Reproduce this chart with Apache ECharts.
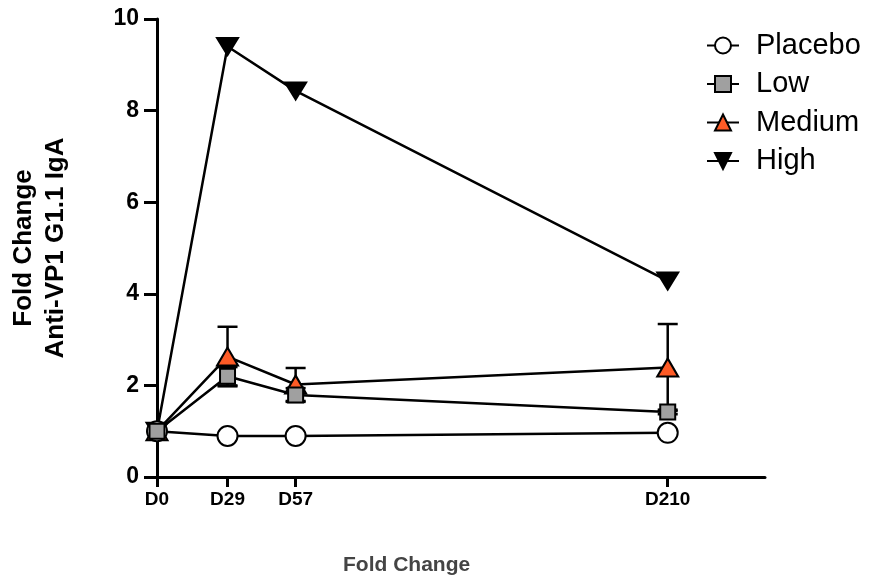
<!DOCTYPE html>
<html>
<head>
<meta charset="utf-8">
<script src="https://cdn.jsdelivr.net/npm/echarts@6/dist/echarts.min.js"></script>
<style>html,body{margin:0;padding:0;background:#fff}#c{width:869px;height:579px}</style>
</head>
<body>
<div id="c"></div>
<script>
const days = [0, 29, 57, 210];
const tickLabels = ['D0', 'D29', 'D57', 'D210'];
const yTicks = [0, 2, 4, 6, 8, 10];
const placebo = [1.0, 0.895, 0.895, 0.965];
const low = [1.0, 2.2, 1.79, 1.42];
const medium = [1.0, 2.63, 2.02, 2.39];
const high = [1.0, 9.4, 8.43, 4.28];
const placeboErr = [0, 0, 0, 0];
const lowErr = [0.05, 0.2, 0.15, 0.05];
const mediumErr = [0.05, 0.65, 0.36, 0.95];
const highErr = [0, 0, 0, 0];

const chart = echarts.init(document.getElementById('c'));
const FONT = 'Liberation Sans, Arial, sans-serif';

function pts(vals) { return days.map((d, i) => [d, vals[i]]); }
function errData(vals, errs) { return days.map((d, i) => [d, vals[i], errs[i]]); }

function errorSeries(name, vals, errs) {
  return {
    type: 'custom',
    name: name + ' err',
    z: 1,
    silent: true,
    data: errData(vals, errs),
    renderItem: function (params, api) {
      const x = api.value(0), y = api.value(1), e = api.value(2);
      if (!e) return null;
      const top = api.coord([x, y + e]);
      const bot = api.coord([x, y - e]);
      const hw = 10;
      const st = { stroke: '#000', lineWidth: 2.5 };
      return {
        type: 'group',
        children: [
          { type: 'line', shape: { x1: top[0], y1: top[1], x2: bot[0], y2: bot[1] }, style: st },
          { type: 'line', shape: { x1: top[0] - hw, y1: top[1], x2: top[0] + hw, y2: top[1] }, style: st },
          { type: 'line', shape: { x1: bot[0] - hw, y1: bot[1], x2: bot[0] + hw, y2: bot[1] }, style: st }
        ]
      };
    }
  };
}

function lineSeries(name, vals, symbol, size, fill, rotate, z) {
  return {
    type: 'line',
    name: name,
    data: pts(vals),
    z: z,
    symbol: symbol,
    symbolSize: size,
    symbolRotate: rotate || 0,
    showAllSymbol: true,
    lineStyle: { color: '#000', width: 2.5 },
    itemStyle: { color: fill, borderColor: '#000', borderWidth: 2 },
    emphasis: { disabled: true },
    animation: false
  };
}

chart.setOption({
  animation: false,
  backgroundColor: '#fff',
  grid: { left: 155, right: 104, top: 19, bottom: 102, containLabel: false },
  legend: {
    orient: 'vertical',
    left: 701,
    top: 26,
    itemWidth: 32,
    itemHeight: 20,
    itemGap: 9.5,
    data: ['Placebo', 'Low', 'Medium', 'High'],
    textStyle: { fontFamily: FONT, fontSize: 29, color: '#000', padding: [0, 0, 0, 12] }
  },
  xAxis: {
    type: 'value',
    min: 0,
    max: 250,
    splitLine: { show: false },
    axisLine: { lineStyle: { color: '#000', width: 3 } },
    axisTick: { show: true, length: 10, lineStyle: { color: '#000', width: 3 }, customValues: days },
    axisLabel: {
      customValues: days,
      formatter: function (v) { const i = days.indexOf(v); return i >= 0 ? tickLabels[i] : ''; },
      fontFamily: FONT, fontWeight: 'bold', fontSize: 19, color: '#000', margin: 13
    }
  },
  yAxis: {
    type: 'value',
    min: 0,
    max: 10,
    interval: 2,
    splitLine: { show: false },
    axisLine: { show: true, lineStyle: { color: '#000', width: 3 } },
    axisTick: { show: true, length: 13, lineStyle: { color: '#000', width: 3 } },
    axisLabel: {
      formatter: function (v) { return yTicks.indexOf(v) >= 0 ? String(v) : ''; },
      fontFamily: FONT, fontWeight: 'bold', fontSize: 23, color: '#000', margin: 18
    },
    name: 'Fold Change\nAnti-VP1 G1.1 IgA',
    nameLocation: 'middle',
    nameRotate: 90,
    nameGap: 85,
    nameTextStyle: { fontFamily: FONT, fontWeight: 'bold', fontSize: 26, color: '#000', lineHeight: 32 }
  },
  graphic: [{
    type: 'text',
    left: 343,
    top: 555,
    style: { text: 'Fold Change', fontFamily: FONT, fontWeight: 'bold', fontSize: 21, fill: '#444' }
  }],
  series: [
    errorSeries('Placebo', placebo, placeboErr),
    errorSeries('Low', low, lowErr),
    errorSeries('Medium', medium, mediumErr),
    errorSeries('High', high, highErr),
    lineSeries('Placebo', placebo, 'circle', 20, '#fff', 0, 5),
    lineSeries('Low', low, 'rect', 15, '#a0a0a0', 0, 6),
    lineSeries('Medium', medium, 'triangle', [21, 18], '#fe5b26', 0, 4),
    lineSeries('High', high, 'triangle', [21, 17], '#000', 180, 3)
  ]
});
</script>
</body>
</html>
